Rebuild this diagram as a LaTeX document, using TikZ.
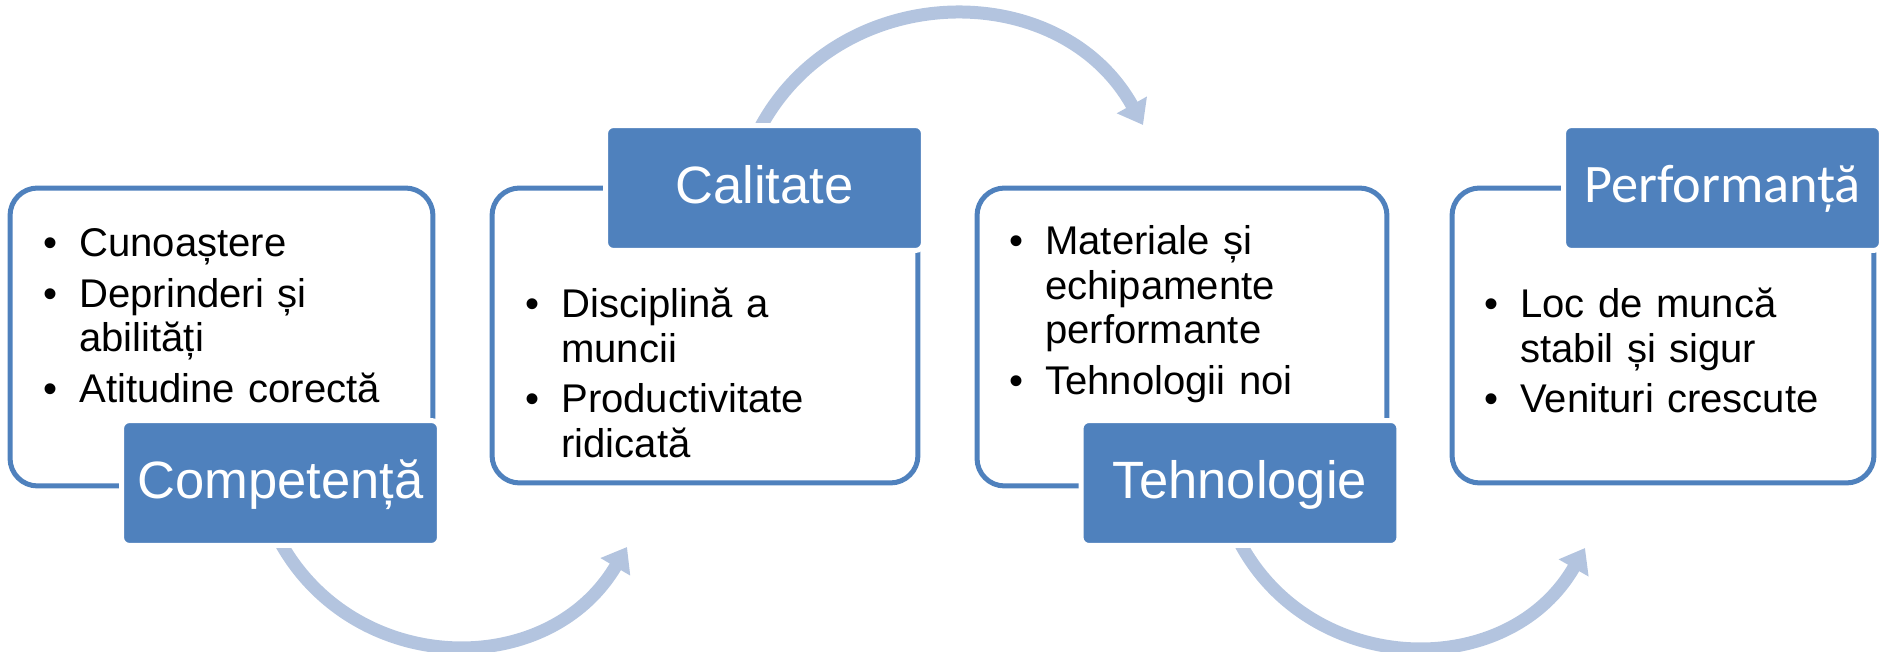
\documentclass[tikz,border=0pt]{standalone}
\usepackage{fontspec}
\setmainfont{Liberation Sans}
\newfontfamily\calibrifont{Carlito}
\usetikzlibrary{arrows.meta, backgrounds}

\definecolor{accentblue}{HTML}{4F81BD}
\definecolor{arrowblue}{HTML}{B3C4DF}

\newcommand{\bulletitem}[1]{\setlength{\parskip}{3.4pt}\raggedright\hangindent=0.72cm\hangafter=1\makebox[0.72cm][l]{\textbullet}#1\par}

\begin{document}
\begin{tikzpicture}[
    x=0.02cm, y=0.02cm,
    frame/.style={rectangle, rounded corners=0.55cm, draw=accentblue, line width=0.1cm, fill=white},
    title/.style={rectangle, rounded corners=0.16cm, fill=accentblue, draw=white, line width=0.1cm, minimum width=6.36cm, minimum height=2.5cm, inner sep=0pt, text=white, font=\fontsize{29.9pt}{34pt}\selectfont, text height=21.4pt, text depth=4pt},
    items/.style={anchor=base west, text width=8cm, inner sep=0pt, font=\fontsize{22.8pt}{25.3pt}\selectfont},
    flow/.style={draw=arrowblue, line width=0.26cm, -{Triangle[length=0.46cm, width=0.66cm]}, looseness=1.15}
    ]
    \useasboundingbox (0,0) rectangle (1881,652);

    % Boxes
    \node (box1) [frame, minimum width=8.46cm, minimum height=5.96cm] at (221.5,315) {};
    \node (box2) [frame, minimum width=8.52cm, minimum height=5.9cm] at (705,316.5) {};
    \node (box3) [frame, minimum width=8.2cm, minimum height=5.96cm] at (1182,315) {};
    \node (box4) [frame, minimum width=8.44cm, minimum height=5.9cm] at (1663,316.5) {};

    % Titles
    \node (lab1) [title] at (280.5,169) {Competență};
    \node (lab2) [title] at (764.5,464) {Calitate};
    \node (lab3) [title] at (1240,169) {Tehnologie};
    \node (lab4) [title, font=\calibrifont\fontsize{30.9pt}{34pt}\selectfont, text height=20pt] at (1722.5,464) {Performanță};

    % Lists
    \node (list1) [items] at (43,395) {\bulletitem{Cunoaștere}\bulletitem{Deprinderi și\newline abilități}\bulletitem{Atitudine corectă}};
    \node (list2) [items] at (525,334) {\bulletitem{Disciplină a\newline muncii}\bulletitem{Productivitate\newline ridicată}};
    \node (list3) [items] at (1009,397) {\bulletitem{Materiale și\newline echipamente\newline performante}\bulletitem{Tehnologii noi}};
    \node (list4) [items] at (1484,334) {\bulletitem{Loc de muncă\newline stabil și sigur}\bulletitem{Venituri crescute}};

    % Arrows
    \coordinate (tip1) at (627,105);
    \coordinate (tip2) at (1143,527);
    \coordinate (tip3) at (1585,104);
    \begin{scope}[on background layer]
        \draw [flow] ([shift={(-3,11)}]lab1.south) to[out=-62.6, in=239.5] (tip1);
        \draw [flow] ([shift={(-9,-14)}]lab2.north) to[out=64.5, in=119.1] (tip2);
        \draw [flow] ([shift={(-3,11)}]lab3.south) to[out=-63.8, in=240.2] (tip3);
    \end{scope}

\end{tikzpicture}
\end{document}
